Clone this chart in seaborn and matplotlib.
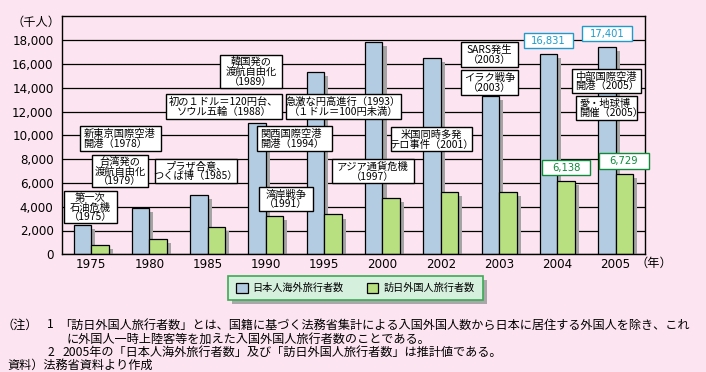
import numpy as np
import pandas as pd
import matplotlib
matplotlib.use("Agg")
import matplotlib.pyplot as plt
import seaborn as sns
from matplotlib import patheffects as pe
from matplotlib.patches import Rectangle, Patch

# ---------------- data ----------------
years = ['1975', '1980', '1985', '1990', '1995', '2000', '2002', '2003', '2004', '2005']
japanese_outbound = [2466, 3909, 4948, 10997, 15298, 17819, 16523, 13296, 16831, 17401]
foreign_visitors = [812, 1317, 2327, 3236, 3345, 4757, 5239, 5212, 6138, 6729]
series_names = ['日本人海外旅行者数', '訪日外国人旅行者数']
y_ticks = [0, 2000, 4000, 6000, 8000, 10000, 12000, 14000, 16000, 18000]
event_texts = [
    '第一次\n石油危機\n（1975）',
    '台湾発の\n渡航自由化\n（1979）',
    '新東京国際空港\n開港（1978）',
    'プラザ合意、\nつくば博（1985）',
    '初の１ドル＝120円台、\nソウル五輪（1988）',
    '韓国発の\n渡航自由化\n（1989）',
    '急激な円高進行（1993）\n（１ドル＝100円未満）',
    '関西国際空港\n開港（1994）',
    '湾岸戦争\n（1991）',
    'アジア通貨危機\n（1997）',
    '米国同時多発\nテロ事件（2001）',
    'SARS発生\n（2003）',
    'イラク戦争\n（2003）',
    '中部国際空港\n開港（2005）',
    '愛・地球博\n開催（2005）',
]
note_lines = [
    '「訪日外国人旅行者数」とは、国籍に基づく法務省集計による入国外国人数から日本に居住する外国人を除き、これ',
    'に外国人一時上陸客等を加えた入国外国人旅行者数のことである。',
    '2005年の「日本人海外旅行者数」及び「訪日外国人旅行者数」は推計値である。',
    '資料）法務省資料より作成',
]

# ---------------- style ----------------
BG = '#FCE4F0'
BLUE = '#B4CCE2'
GREEN = '#B8E080'
CYAN_TXT = '#1E9BCB'
GREEN_TXT = '#0E8A3A'
CJK = ['Noto Sans CJK JP', 'DejaVu Sans']
plt.rcParams['font.family'] = CJK

W, H = 706, 372
fig = plt.figure(figsize=(W / 100, H / 100), dpi=100, facecolor=BG)
ax = fig.add_axes([62 / W, 1 - 254.3 / H, (644.7 - 62) / W, (254.3 - 16.3) / H])
ax.set_facecolor(BG)

df = pd.DataFrame({
    'year': years * 2,
    'series': [series_names[0]] * len(years) + [series_names[1]] * len(years),
    'value': japanese_outbound + foreign_visitors,
})
sns.barplot(data=df, x='year', y='value', hue='series', hue_order=series_names,
            palette=[BLUE, GREEN], saturation=1, width=0.6, edgecolor='black',
            linewidth=0.9, legend=False, ax=ax, errorbar=None)

for p in ax.patches:
    p.set_path_effects([pe.SimplePatchShadow(offset=(2.9, -2.9), shadow_rgbFace='#A4A4A4', alpha=1.0),
                        pe.Normal()])

ax.set_ylim(0, 20000)
ax.set_xlim(-0.5, len(years) - 0.5)
ax.set_yticks(y_ticks)
ax.set_yticklabels([f'{v:,}' for v in y_ticks], family=['DejaVu Sans'], fontsize=8.6)
ax.set_xticklabels(years, family=['DejaVu Sans'], fontsize=8.6)
ax.tick_params(axis='both', length=0, colors='black')
ax.tick_params(axis='y', pad=6)
ax.tick_params(axis='x', pad=3)
ax.set_xlabel('')
ax.set_ylabel('')
ax.set_axisbelow(True)
ax.yaxis.grid(True, color='black', linewidth=0.9)
ax.xaxis.grid(False)
for s in ax.spines.values():
    s.set_color('black')
    s.set_linewidth(1.0)

fig.text(36 / W, 1 - 22 / H, '（千人）', ha='center', va='center', fontsize=8.8)
fig.text(654 / W, 1 - 263 / H, '（年）', ha='center', va='center', fontsize=8.8)


# ---------------- annotation boxes ----------------
def box(x0, y0, x1, y1, text, align='center', color='black', fs=7.4, family=CJK, ls=0.98):
    fig.add_artist(Rectangle((x0 / W, 1 - y1 / H), (x1 - x0) / W, (y1 - y0) / H,
                             transform=fig.transFigure, facecolor='white',
                             edgecolor=color, linewidth=1.0, zorder=5))
    cy = 1 - ((y0 + y1) / 2 + 0.5) / H
    if align == 'left':
        fig.text((x0 + 3.5) / W, cy, text, ha='left', va='center', fontsize=fs,
                 color=color, family=family, linespacing=ls, zorder=6, multialignment='left')
    else:
        fig.text((x0 + x1) / 2 / W, cy, text, ha='center', va='center', fontsize=fs,
                 color=color, family=family, linespacing=ls, zorder=6, multialignment='center')


event_layout = [
    (64, 191, 117, 223, 'center'),
    (92, 155, 148, 187, 'center'),
    (80, 126, 161, 151, 'left'),
    (155, 159, 237, 183, 'center'),
    (166, 94, 282, 119, 'center'),
    (220, 55, 282, 88, 'center'),
    (286, 94, 401, 119, 'center'),
    (257, 126, 332, 151, 'left'),
    (259, 187, 313, 211, 'center'),
    (332, 159, 414, 183, 'center'),
    (391, 127, 472, 151, 'center'),
    (461, 42, 518, 67, 'center'),
    (461, 70, 518, 95, 'center'),
    (572, 69, 641, 93, 'left'),
    (576, 96, 637, 120, 'left'),
]
for (x0, y0, x1, y1, al), t in zip(event_layout, event_texts):
    box(x0, y0, x1, y1, t, align=al)

# value callouts for 2004 / 2005
VF = ['DejaVu Sans']
box(524, 33, 573, 48, f'{japanese_outbound[8]:,}', color=CYAN_TXT, fs=7.2, family=VF)
box(582, 26, 632, 41, f'{japanese_outbound[9]:,}', color=CYAN_TXT, fs=7.2, family=VF)
box(542, 160, 590, 175, f'{foreign_visitors[8]:,}', color=GREEN_TXT, fs=7.2, family=VF)
box(599, 153, 649, 169, f'{foreign_visitors[9]:,}', color=GREEN_TXT, fs=7.2, family=VF)

# ---------------- legend ----------------
lx0, ly0, lx1, ly1 = 228, 276, 483, 300
fig.add_artist(Rectangle(((lx0 + 4) / W, 1 - (ly1 + 4) / H), (lx1 - lx0) / W, (ly1 - ly0) / H,
                         transform=fig.transFigure, facecolor='#A8A8A8', edgecolor='none', zorder=3))
fig.add_artist(Rectangle((lx0 / W, 1 - ly1 / H), (lx1 - lx0) / W, (ly1 - ly0) / H,
                         transform=fig.transFigure, facecolor='#D6F0DE', edgecolor='#3DAA55',
                         linewidth=1.2, zorder=4))
handles = [Patch(facecolor=BLUE, edgecolor='black', linewidth=0.9),
           Patch(facecolor=GREEN, edgecolor='black', linewidth=0.9)]
leg = fig.legend(handles, series_names, loc='center', ncol=2,
                 bbox_to_anchor=((lx0 + lx1) / 2 / W, 1 - (ly0 + ly1) / 2 / H),
                 bbox_transform=fig.transFigure, frameon=False, fontsize=7.3,
                 handlelength=1.1, handleheight=1.1, handletextpad=0.5, columnspacing=2.3,
                 borderpad=0, borderaxespad=0)
leg.set_zorder(6)

# ---------------- notes ----------------
NFS = 8.75
fig.text(2 / W, 1 - 325 / H, '（注）', ha='left', va='center', fontsize=NFS)
fig.text(47 / W, 1 - 325 / H, '1', ha='left', va='center', fontsize=NFS)
fig.text(59 / W, 1 - 325 / H, note_lines[0], ha='left', va='center', fontsize=NFS)
fig.text(67 / W, 1 - 339 / H, note_lines[1], ha='left', va='center', fontsize=NFS)
fig.text(47 / W, 1 - 352.5 / H, '2', ha='left', va='center', fontsize=NFS)
fig.text(62 / W, 1 - 352.5 / H, note_lines[2], ha='left', va='center', fontsize=NFS)
fig.text(7 / W, 1 - 365.5 / H, note_lines[3], ha='left', va='center', fontsize=NFS)

fig.savefig('out.png', dpi=100, facecolor=BG)
